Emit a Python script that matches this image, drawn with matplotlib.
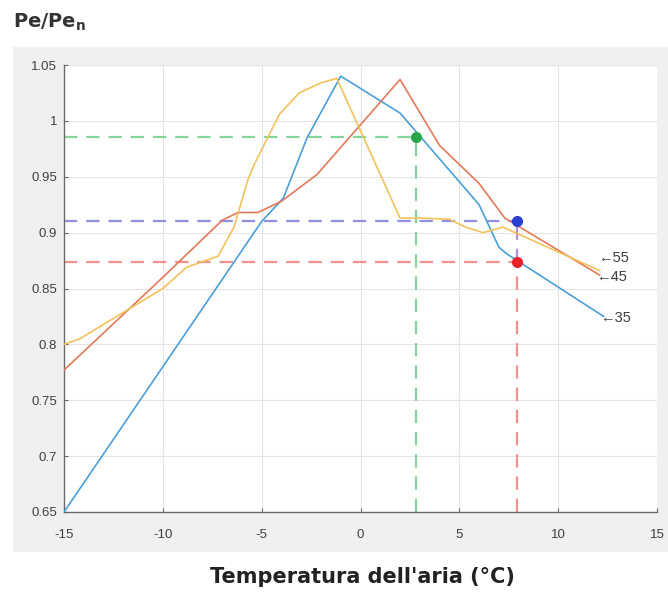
import numpy as np
import matplotlib
matplotlib.use("Agg")
import matplotlib.pyplot as plt
from matplotlib.patches import Rectangle

# curve data (temperature in degC, Pe/Pen)
x_35 = [-15, -10, -5, -3.9, -2.7, -1, 2, 4, 6, 7, 7.4, 12.3]
y_35 = [0.65, 0.78, 0.91, 0.931, 0.985, 1.04, 1.007, 0.966, 0.925, 0.887, 0.881, 0.825]

x_45 = [-15, -10, -7, -6.2, -5.2, -4, -2.2, 2, 4, 6, 7.3, 12.1]
y_45 = [0.777, 0.86, 0.911, 0.918, 0.918, 0.928, 0.952, 1.037, 0.978, 0.944, 0.913, 0.862]

x_55 = [-15, -14.2, -10, -8.8, -7.2, -6.4, -5.7, -5.4, -4.1, -3.1, -2, -1.2,
        2, 3, 4.5, 5.3, 6.2, 7.2, 12.1]
y_55 = [0.80, 0.805, 0.85, 0.869, 0.879, 0.905, 0.947, 0.96, 1.006, 1.025, 1.034, 1.038,
        0.913, 0.913, 0.912, 0.905, 0.900, 0.905, 0.866]

curve_labels = ["\u219055", "\u219045", "\u219035"]
label_pos = [(12.0, 0.877), (11.9, 0.860), (12.1, 0.824)]

# operating points
pt_green = (2.8, 0.986)
pt_blue = (7.9, 0.910)
pt_red = (7.9, 0.874)

xticks = [-15, -10, -5, 0, 5, 10, 15]
xtick_labels = ["-15", "-10", "-5", "0", "5", "10", "15"]
yticks = [0.65, 0.7, 0.75, 0.8, 0.85, 0.9, 0.95, 1, 1.05]
ytick_labels = ["0.65", "0.7", "0.75", "0.8", "0.85", "0.9", "0.95", "1", "1.05"]

fig = plt.figure(figsize=(6.68, 5.92), dpi=100)
fig.patch.set_facecolor("white")

# matlab-ish grey panel behind the axes
fig.patches.append(Rectangle((13/668, 1-552/592), 1-13/668, (552-47)/592,
                             transform=fig.transFigure, facecolor="#f0f0f0",
                             edgecolor="none", zorder=-5))

ax = fig.add_axes([64/668, 1-512/592, (657-64)/668, (512-65)/592])
ax.set_zorder(1)
ax.set_facecolor("white")

ax.plot(x_35, y_35, color="#4a9fd8", lw=1.2, zorder=3)
ax.plot(x_45, y_45, color="#e2795a", lw=1.2, zorder=3)
ax.plot(x_55, y_55, color="#f2c25a", lw=1.2, zorder=3)

dash = (0, (6, 4))
# green reference
ax.plot([-15, pt_green[0]], [pt_green[1]]*2, color="#86d49a", lw=1.6, ls=dash, zorder=2)
ax.plot([pt_green[0]]*2, [0.65, pt_green[1]], color="#86d49a", lw=1.6, ls=dash, zorder=2)
# blue reference
ax.plot([-15, pt_blue[0]], [pt_blue[1]]*2, color="#9090e2", lw=1.6, ls=dash, zorder=2)
ax.plot([pt_blue[0]]*2, [pt_red[1], pt_blue[1]], color="#b090d8", lw=1.6, ls=dash, zorder=2)
# red reference
ax.plot([-15, pt_red[0]], [pt_red[1]]*2, color="#f29090", lw=1.6, ls=dash, zorder=2)
ax.plot([pt_red[0]]*2, [0.65, pt_red[1]], color="#f29090", lw=1.6, ls=dash, zorder=2)

ax.plot(*pt_green, marker="o", ms=7, color="#2aa64a", zorder=4)
ax.plot(*pt_blue, marker="o", ms=7, color="#2a3ed0", zorder=4)
ax.plot(*pt_red, marker="o", ms=7, color="#e8202a", zorder=4)

for txt, (tx, ty) in zip(curve_labels, label_pos):
    ax.text(tx, ty, txt, fontsize=10.5, color="#404040", va="center", ha="left",
            family=["Liberation Sans", "DejaVu Sans"])

ax.set_xlim(-15, 15)
ax.set_ylim(0.65, 1.05)
ax.set_xticks(xticks)
ax.set_xticklabels(xtick_labels)
ax.set_yticks(yticks)
ax.set_yticklabels(ytick_labels)
ax.grid(True, color="#e4e4e4", lw=0.8)
ax.set_axisbelow(True)

for s in ["top", "right"]:
    ax.spines[s].set_visible(False)
for s in ["left", "bottom"]:
    ax.spines[s].set_color("#6a6a6a")
    ax.spines[s].set_linewidth(1.0)

ax.tick_params(axis="both", direction="in", length=3, color="#6a6a6a",
               labelsize=9.5, labelcolor="#404040")
ax.tick_params(axis="x", pad=12)
ax.tick_params(axis="y", pad=5)
for lab in ax.get_xticklabels() + ax.get_yticklabels():
    lab.set_family("Liberation Sans")

fig.text(13/668, 1-22/592, "Pe/Pe$_{\\mathregular{n}}$", fontsize=14, fontweight="bold",
         color="#333333", ha="left", va="center", family="DejaVu Sans")
fig.text(362/668, 1-577/592, "Temperatura dell'aria (\u00b0C)", fontsize=15, fontweight="bold",
         color="#222222", ha="center", va="center", family="DejaVu Sans")

plt.savefig("out.png", dpi=100)
